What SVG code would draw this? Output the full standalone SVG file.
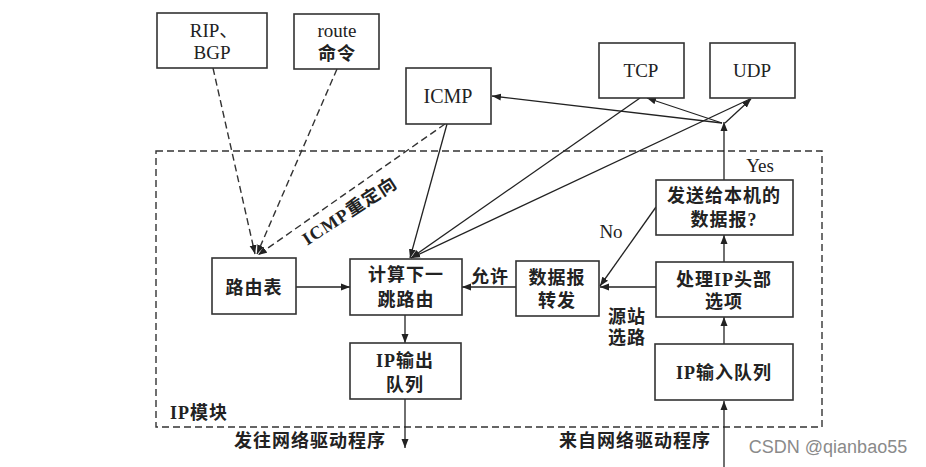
<svg xmlns="http://www.w3.org/2000/svg" width="926" height="467" viewBox="0 0 926 467">
<defs>
<marker id="ah" markerUnits="userSpaceOnUse" markerWidth="10" markerHeight="8" refX="9" refY="4" orient="auto">
<path d="M0,0.5 L9,4 L0,7.5 Z" fill="#222"/>
</marker>
<style>
.box{fill:#fff;stroke:#333;stroke-width:1.6}
.t{font-family:"Liberation Serif","Noto Sans CJK SC",serif;font-size:18px;font-weight:bold;fill:#222;text-anchor:middle;letter-spacing:1px}
.l{font-family:"Liberation Serif","Noto Sans CJK SC",serif;font-size:19px;fill:#222;text-anchor:middle}
.c{fill:none;stroke:#222;stroke-width:1.3}
.d{fill:none;stroke:#333;stroke-width:1.4;stroke-dasharray:7 4}
</style>
</defs>
<rect width="926" height="467" fill="#fff"/>
<rect id="ip-module" x="156" y="151" width="666" height="276" class="d"/>
<text class="t" x="199" y="419">IP模块</text>

<g id="connectors">
<line class="d" x1="213" y1="68" x2="255" y2="254" marker-end="url(#ah)"/>
<line class="d" x1="337" y1="69" x2="257" y2="254" marker-end="url(#ah)"/>
<line class="d" x1="445" y1="124" x2="258" y2="255" marker-end="url(#ah)"/>
<line class="c" x1="447" y1="124" x2="410" y2="258" marker-end="url(#ah)"/>
<line class="c" x1="640" y1="98" x2="411" y2="258" marker-end="url(#ah)"/>
<line class="c" x1="750" y1="99" x2="411" y2="258" marker-end="url(#ah)"/>
<line class="c" x1="724" y1="180" x2="724" y2="122" marker-end="url(#ah)"/>
<line class="c" x1="722" y1="123" x2="492" y2="96" marker-end="url(#ah)"/>
<line class="c" x1="722" y1="123" x2="647" y2="98" marker-end="url(#ah)"/>
<line class="c" x1="725" y1="123" x2="751" y2="99" marker-end="url(#ah)"/>
<line class="c" x1="296" y1="287" x2="350" y2="287" marker-end="url(#ah)"/>
<line class="c" x1="516" y1="287" x2="462" y2="287" marker-end="url(#ah)"/>
<line class="c" x1="656" y1="287" x2="600" y2="287" marker-end="url(#ah)"/>
<line class="c" x1="656" y1="207" x2="600" y2="286" marker-end="url(#ah)"/>
<line class="c" x1="724" y1="262" x2="724" y2="235" marker-end="url(#ah)"/>
<line class="c" x1="724" y1="344" x2="724" y2="317" marker-end="url(#ah)"/>
<line class="c" x1="724" y1="467" x2="724" y2="401" marker-end="url(#ah)"/>
<line class="c" x1="405" y1="315" x2="405" y2="343" marker-end="url(#ah)"/>
<line class="c" x1="405" y1="399" x2="405" y2="448" marker-end="url(#ah)"/>
<text class="l" x="760" y="172">Yes</text>
<text class="l" x="611" y="238">No</text>
<text class="t" x="490" y="283">允许</text>
<text class="t" x="627" y="323">源站</text>
<text class="t" x="627" y="344">选路</text>
<text class="t" transform="translate(353,216) rotate(-33)" x="0" y="0">ICMP重定向</text>
</g>

<g id="rip"><rect class="box" x="157" y="13" width="110" height="55"/><text class="l" x="214" y="37">RIP、</text><text class="l" x="212" y="59">BGP</text></g>
<g id="route"><rect class="box" x="294" y="14" width="85" height="55"/><text class="l" x="337" y="37">route</text><text class="t" x="337" y="60">命令</text></g>
<g id="icmp"><rect class="box" x="406" y="68" width="85" height="56"/><text class="l" x="448" y="103" style="font-size:20px">ICMP</text></g>
<g id="tcp"><rect class="box" x="599" y="43" width="85" height="55"/><text class="l" x="641" y="77">TCP</text></g>
<g id="udp"><rect class="box" x="710" y="43" width="85" height="55"/><text class="l" x="752" y="77">UDP</text></g>
<g id="local"><rect class="box" x="656" y="180" width="137" height="55"/><text class="t" x="724" y="202">发送给本机的</text><text class="t" x="724" y="226">数据报?</text></g>
<g id="options"><rect class="box" x="656" y="262" width="137" height="55"/><text class="t" x="724" y="286">处理IP头部</text><text class="t" x="724" y="308">选项</text></g>
<g id="forward"><rect class="box" x="516" y="261" width="83" height="55"/><text class="t" x="557" y="284">数据报</text><text class="t" x="557" y="307">转发</text></g>
<g id="rtable"><rect class="box" x="212" y="258" width="84" height="56"/><text class="t" x="254" y="294">路由表</text></g>
<g id="nexthop"><rect class="box" x="350" y="259" width="112" height="56"/><text class="t" x="406" y="281">计算下一</text><text class="t" x="406" y="306">跳路由</text></g>
<g id="outq"><rect class="box" x="350" y="343" width="111" height="56"/><text class="t" x="405" y="367">IP输出</text><text class="t" x="405" y="391">队列</text></g>
<g id="inq"><rect class="box" x="655" y="344" width="138" height="56"/><text class="t" x="724" y="379">IP输入队列</text></g>

<text class="t" x="310" y="447">发往网络驱动程序</text>
<text class="t" x="635" y="447">来自网络驱动程序</text>
<text x="828" y="453" style="font-family:'Liberation Sans',sans-serif;font-size:18px;fill:#8a8a8a;text-anchor:middle">CSDN @qianbao55</text>
</svg>
